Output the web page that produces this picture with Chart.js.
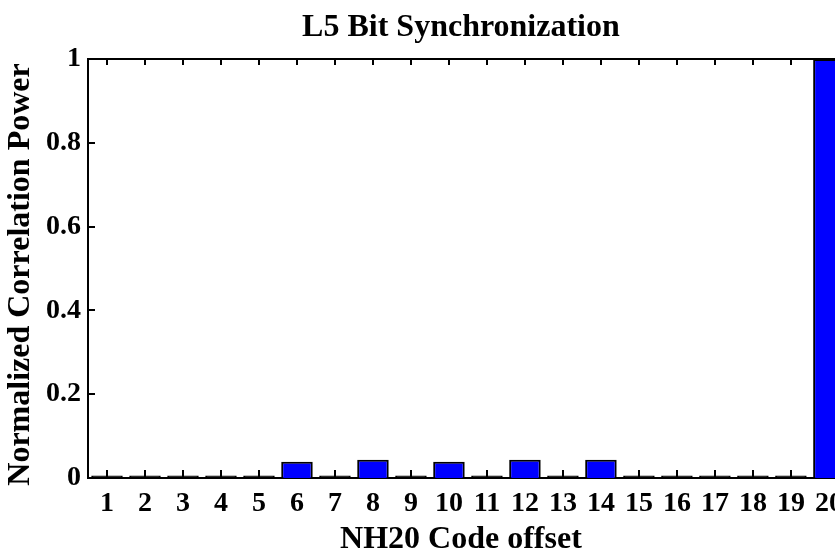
<!DOCTYPE html>
<html>
<head>
<meta charset="utf-8">
<script src="https://cdn.jsdelivr.net/npm/chart.js@4/dist/chart.umd.min.js"></script>
<style>
  html, body { margin: 0; padding: 0; background: #fff; }
  #wrap { width: 835px; height: 550px; overflow: hidden; position: relative; }
  canvas { display: block; }
</style>
</head>
<body>
<div id="wrap"><canvas id="c" width="852" height="560"></canvas></div>
<script>
const chartTitle = 'L5 Bit Synchronization';
const xTitle = 'NH20 Code offset';
const yTitle = 'Normalized Correlation Power';
const categories = ['1','2','3','4','5','6','7','8','9','10','11','12','13','14','15','16','17','18','19','20'];
const correlationPower = [0.006,0.006,0.006,0.006,0.006,0.039,0.006,0.0435,0.006,0.039,0.006,0.0435,0.006,0.0435,0.006,0.006,0.006,0.006,0.006,1.0];
const yTickLabels = ['0','0.2','0.4','0.6','0.8','1'];
const yTickMin = 0, yTickMax = 1, yTickStep = 0.2;

const serif = "'Liberation Serif', 'Times New Roman', serif";

const innerTicks = {
  id: 'innerTicks',
  afterLayout(chart) {
    const tb = chart.titleBlock;
    if (tb) { tb.left -= 7; tb.right -= 7; }
    const xs = chart.scales.x, ys = chart.scales.y;
    if (xs && !xs._shifted) {
      const o = xs.drawTitle;
      xs.drawTitle = function () { this.ctx.save(); this.ctx.translate(-7, 0); o.call(this); this.ctx.restore(); };
      xs._shifted = true;
    }
    if (ys && !ys._shifted) {
      const o = ys.drawTitle;
      ys.drawTitle = function () { this.ctx.save(); this.ctx.translate(0, 6); o.call(this); this.ctx.restore(); };
      ys._shifted = true;
    }
  },
  beforeDatasetsDraw(chart) {
    const { ctx, chartArea: { left, top, bottom }, scales: { x, y } } = chart;
    ctx.save();
    ctx.strokeStyle = '#000';
    ctx.lineWidth = 2;
    ctx.beginPath();
    categories.forEach((c, i) => {
      const px = Math.round(x.getPixelForValue(i));
      ctx.moveTo(px, bottom); ctx.lineTo(px, bottom - 8);
      ctx.moveTo(px, top); ctx.lineTo(px, top + 6);
    });
    y.ticks.forEach(t => {
      const py = Math.round(y.getPixelForValue(t.value));
      ctx.moveTo(left, py); ctx.lineTo(left + 7, py);
    });
    ctx.stroke();
    ctx.restore();
  },
  afterDraw(chart) {
    const { ctx, chartArea: { left, right, top } } = chart;
    ctx.save();
    ctx.strokeStyle = '#000';
    ctx.lineWidth = 2;
    ctx.beginPath();
    ctx.moveTo(left - 1, top); ctx.lineTo(right, top);
    ctx.stroke();
    ctx.restore();
  }
};

new Chart(document.getElementById('c'), {
  type: 'bar',
  data: {
    labels: categories,
    datasets: [{
      data: correlationPower,
      backgroundColor: (ctx) => (ctx.raw !== undefined && ctx.raw < 0.01 ? '#000000' : '#0000ff'),
      borderColor: '#000000',
      borderWidth: 2,
      borderSkipped: 'start',
      barPercentage: 0.83,
      categoryPercentage: 1.0
    }]
  },
  options: {
    responsive: false,
    animation: false,
    devicePixelRatio: 1,
    layout: { padding: 0 },
    plugins: {
      legend: { display: false },
      tooltip: { enabled: false },
      title: {
        display: true,
        text: chartTitle,
        fullSize: false,
        color: '#000',
        font: { family: serif, size: 32, weight: 'bold' },
        padding: { top: 9, bottom: 11.6 }
      }
    },
    scales: {
      x: {
        type: 'category',
        offset: true,
        grid: { display: false, drawTicks: false },
        border: { display: true, color: '#000', width: 2 },
        ticks: {
          color: '#000',
          font: { family: serif, size: 28, weight: 'bold' },
          padding: 9,
          maxRotation: 0,
          autoSkip: false
        },
        title: {
          display: true,
          text: xTitle,
          color: '#000',
          font: { family: serif, size: 32, weight: 'bold' },
          padding: { top: 0, bottom: 1 }
        },
        afterFit(scale) { scale.height = 82; }
      },
      y: {
        min: yTickMin,
        max: yTickMax,
        grid: { display: false, drawTicks: false },
        border: { display: true, color: '#000', width: 2 },
        ticks: {
          stepSize: yTickStep,
          color: '#000',
          font: { family: serif, size: 28, weight: 'bold' },
          padding: 7,
          callback: (v, i) => yTickLabels[i]
        },
        title: {
          display: true,
          text: yTitle,
          color: '#000',
          font: { family: serif, size: 32, weight: 'bold' },
          padding: { top: 2, bottom: 0 }
        },
        afterFit(scale) { scale.width = 88; }
      }
    }
  },
  plugins: [innerTicks]
});
</script>
</body>
</html>
